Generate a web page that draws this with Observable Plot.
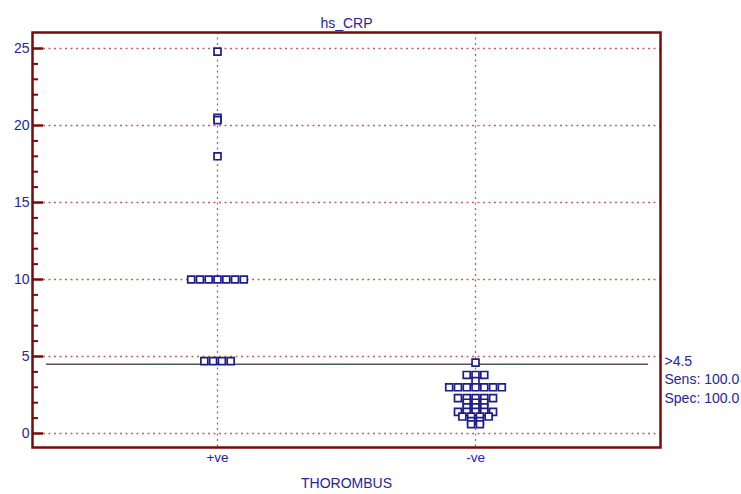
<!DOCTYPE html>
<html><head><meta charset="utf-8">
<script src="https://cdn.jsdelivr.net/npm/d3@7"></script>
<script src="https://cdn.jsdelivr.net/npm/@observablehq/plot@0.6"></script>
<style>body{margin:0;background:#fff;} svg{display:block;}</style>
</head><body><div id="chart"></div>
<script>
const title = "hs_CRP";
const xTitle = "THOROMBUS";
const categories = ["+ve", "-ve"];
const posValues = [24.8, 20.5, 20.35, 18.0, 10, 10, 10, 10, 10, 10, 10, 4.7, 4.7, 4.7, 4.7];
const negValues = [4.6, 3.8, 3.8, 3.8, 3.4, 3.0, 3.0, 3.0, 3.0, 3.0, 3.0, 3.0,
  2.3, 2.3, 2.3, 2.3, 2.3, 2.0, 2.0, 2.0, 1.7, 1.7, 1.7,
  1.4, 1.4, 1.4, 1.4, 1.4, 1.1, 1.1, 1.1, 1.1, 0.8, 0.8, 0.6, 0.6];
const cutoff = 4.5;
const annot = [">4.5", "Sens: 100.0", "Spec: 100.0"];
const yMajor = [0, 5, 10, 15, 20, 25];
const yMinor = d3.range(0, 26).filter(v => v % 5 !== 0);

const spread = 0.034; // horizontal step (in category units), dot-plot layout
function layout(values, catIndex) {
  const groups = d3.group(values, v => v);
  const out = [];
  for (const [v, arr] of groups) {
    arr.forEach((_, i) => out.push({x: catIndex + (i - (arr.length - 1) / 2) * spread, y: v}));
  }
  return out;
}
const points = [...layout(posValues, 1), ...layout(negValues, 2)];

const dark = "#7a0a0a", grid = "#bb6060", blue = "#24249c", font = "Liberation Sans, Arial, sans-serif";

const chart = Plot.plot({
  width: 741, height: 494,
  marginLeft: 32, marginRight: 81, marginTop: 32, marginBottom: 47,
  style: {fontFamily: font, background: "#fff"},
  x: {domain: [0.283, 2.717]},
  y: {domain: [-0.91, 26.04]},
  marks: [
    Plot.ruleY(yMajor, {stroke: grid, strokeWidth: 1.3, strokeDasharray: "2,3.5"}),
    Plot.ruleX([1, 2], {stroke: grid, strokeWidth: 1.3, strokeDasharray: "2,3.5"}),
    Plot.ruleY([cutoff], {stroke: "#555", strokeWidth: 1.6, insetLeft: 14, insetRight: 12}),
    Plot.axisY({ticks: yMinor, tickSize: -6, tickFormat: () => "", label: null, stroke: dark, strokeWidth: 2}),
    Plot.axisY({ticks: yMajor, tickSize: -11, tickFormat: () => "", label: null, stroke: dark, strokeWidth: 2.5}),
    Plot.axisY({ticks: yMajor, tickSize: 0, tickPadding: 3, label: null, color: blue, fontSize: 14}),
    Plot.axisX({ticks: [1, 2], tickSize: 0, tickPadding: 5, tickFormat: d => categories[d - 1], label: null, color: blue, fontSize: 13.5}),
    Plot.dot(points, {x: "x", y: "y", symbol: "square", r: 3.9, stroke: "#1c1c8c", fill: "white", strokeWidth: 1.7}),
    Plot.frame({stroke: dark, strokeWidth: 2.5}),
    Plot.text([title], {frameAnchor: "top", dy: -14, fill: blue, fontSize: 14}),
    Plot.text([xTitle], {frameAnchor: "bottom", dy: 40, fill: blue, fontSize: 14}),
    Plot.text([annot[0]], {frameAnchor: "right", y: () => cutoff, dx: 4, dy: -3, textAnchor: "start", fill: blue, fontSize: 14}),
    Plot.text([annot[1]], {frameAnchor: "right", y: () => cutoff, dx: 4, dy: 15, textAnchor: "start", fill: blue, fontSize: 14}),
    Plot.text([annot[2]], {frameAnchor: "right", y: () => cutoff, dx: 4, dy: 34, textAnchor: "start", fill: blue, fontSize: 14})
  ]
});
document.getElementById("chart").appendChild(chart);
</script></body></html>
